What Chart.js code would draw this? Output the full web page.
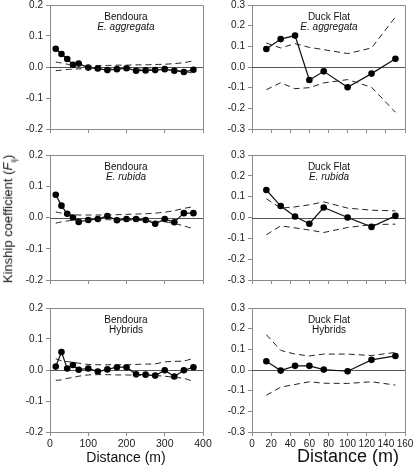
<!DOCTYPE html>
<html lang="en">
<head>
<meta charset="UTF-8">
<title>Kinship coefficient vs distance</title>
<script src="https://cdn.jsdelivr.net/npm/chart.js"></script>
<style>
  body { margin: 0; background: #fff; font-family: "Liberation Sans", Arial, sans-serif; }
  #wrap { position: relative; width: 416px; height: 470px; overflow: hidden; }
  canvas { position: absolute; }
  .ttl { position: absolute; width: 150px; font-size: 10px; line-height: 10px; text-align: center; color: #111; }
  .ylab { position: absolute; width: 200px; font-size: 13px; text-align: center; color: #111; transform: rotate(-90deg); }
  .xlab { position: absolute; text-align: center; color: #111; white-space: nowrap; }
</style>
</head>
<body>
<div id="wrap">
  <canvas id="c1"></canvas><canvas id="c2"></canvas>
  <canvas id="c3"></canvas><canvas id="c4"></canvas>
  <canvas id="c5"></canvas><canvas id="c6"></canvas>

  <div class="ttl" style="left:51px;top:12px">Bendoura<br><i>E. aggregata</i></div>
  <div class="ttl" style="left:254px;top:12px">Duck Flat<br><i>E. aggregata</i></div>
  <div class="ttl" style="left:51px;top:162px">Bendoura<br><i>E. rubida</i></div>
  <div class="ttl" style="left:254px;top:162px">Duck Flat<br><i>E. rubida</i></div>
  <div class="ttl" style="left:51px;top:315px">Bendoura<br>Hybrids</div>
  <div class="ttl" style="left:254px;top:315px">Duck Flat<br>Hybrids</div>

  <div class="ylab" style="left:-91px;top:210px">Kinship coefficient (<i>F</i><sub style="font-size:8px">ij</sub>)</div>
  <div class="xlab" style="left:66px;width:120px;top:449px;font-size:14px">Distance (m)</div>
  <div class="xlab" style="left:288px;width:120px;top:446px;font-size:18px">Distance (m)</div>
</div>

<script>
// Bendoura distance classes (m)
const distB = [15, 30, 45, 60, 75, 100, 125, 150, 175, 200, 225, 250, 275, 300, 325, 350, 375];
// Duck Flat distance classes (m)
const distD = [15, 30, 45, 60, 75, 100, 125, 150];

// Bendoura E. aggregata
const bAggObs = [0.059, 0.042, 0.026, 0.007, 0.011, -0.002, -0.005, -0.010, -0.007, -0.004, -0.012, -0.011, -0.010, -0.007, -0.012, -0.016, -0.009];
const bAggUp  = [0.016, 0.013, 0.009, 0.007, 0.006, 0.005, 0.005, 0.005, 0.006, 0.006, 0.007, 0.007, 0.008, 0.009, 0.011, 0.014, 0.020];
const bAggLo  = [-0.012, -0.010, -0.008, -0.007, -0.006, -0.006, -0.006, -0.006, -0.006, -0.006, -0.007, -0.007, -0.008, -0.009, -0.011, -0.014, -0.020];

// Duck Flat E. aggregata
const dAggObs = [0.087, 0.135, 0.152, -0.063, -0.021, -0.098, -0.032, 0.040];
const dAggUp  = [0.116, 0.092, 0.113, 0.095, 0.084, 0.065, 0.092, 0.242];
const dAggLo  = [-0.110, -0.076, -0.105, -0.100, -0.077, -0.061, -0.098, -0.219];

// Bendoura E. rubida
const bRubObs = [0.073, 0.038, 0.012, 0.000, -0.014, -0.008, -0.005, 0.005, -0.009, -0.005, -0.005, -0.008, -0.020, -0.005, -0.015, 0.014, 0.014];
const bRubUp  = [0.018, 0.014, 0.011, 0.009, 0.008, 0.008, 0.008, 0.008, 0.009, 0.010, 0.011, 0.012, 0.014, 0.017, 0.022, 0.029, 0.035];
const bRubLo  = [-0.018, -0.014, -0.011, -0.009, -0.008, -0.008, -0.008, -0.007, -0.008, -0.008, -0.009, -0.010, -0.012, -0.014, -0.019, -0.027, -0.036];

// Duck Flat E. rubida
const dRubObs = [0.132, 0.055, 0.005, -0.030, 0.048, 0.000, -0.045, 0.008];
const dRubUp  = [0.090, 0.045, 0.051, 0.061, 0.075, 0.045, 0.035, 0.032];
const dRubLo  = [-0.083, -0.040, -0.050, -0.060, -0.072, -0.048, -0.034, -0.032];

// Bendoura hybrids
const bHybObs = [0.011, 0.058, 0.005, 0.016, 0.001, 0.005, -0.005, 0.002, 0.009, 0.009, -0.014, -0.015, -0.018, -0.001, -0.021, -0.001, 0.009];
const bHybUp  = [0.036, 0.030, 0.027, 0.025, 0.022, 0.018, 0.017, 0.017, 0.017, 0.017, 0.018, 0.019, 0.020, 0.026, 0.028, 0.029, 0.038];
const bHybLo  = [-0.033, -0.032, -0.027, -0.024, -0.020, -0.016, -0.015, -0.015, -0.016, -0.016, -0.017, -0.017, -0.018, -0.020, -0.024, -0.027, -0.037];

// Duck Flat hybrids
const dHybObs = [0.042, -0.003, 0.020, 0.020, 0.002, -0.006, 0.049, 0.068];
const dHybUp  = [0.171, 0.095, 0.077, 0.068, 0.077, 0.077, 0.070, 0.085];
const dHybLo  = [-0.122, -0.083, -0.070, -0.057, -0.064, -0.065, -0.057, -0.073];

const AXIS = '#8a8a8a';
const TEXT = '#1a1a1a';

// frame on top/right + solid zero line
const framePlugin = {
  id: 'frame',
  beforeDatasetsDraw(chart) {
    const a = chart.chartArea, ctx = chart.ctx;
    const y0 = Math.round(chart.scales.y.getPixelForValue(0)) + 0.5;
    ctx.save();
    ctx.strokeStyle = '#555';
    ctx.lineWidth = 1;
    ctx.beginPath();
    ctx.moveTo(a.left, y0);
    ctx.lineTo(a.right, y0);
    ctx.stroke();
    ctx.restore();
  },
  afterDraw(chart) {
    const a = chart.chartArea, ctx = chart.ctx;
    ctx.save();
    ctx.strokeStyle = AXIS;
    ctx.lineWidth = 1;
    ctx.beginPath();
    ctx.moveTo(a.left, Math.round(a.top) + 0.5);
    ctx.lineTo(Math.round(a.right) + 0.5, Math.round(a.top) + 0.5);
    ctx.lineTo(Math.round(a.right) + 0.5, a.bottom);
    ctx.stroke();
    ctx.restore();
  }
};

function pts(xs, ys) {
  return xs.map((x, i) => ({ x: x, y: ys[i] }));
}

function panel(id, xs, obs, up, lo, cfg) {
  const cv = document.getElementById(id);
  cv.width = cfg.w;
  cv.height = cfg.h;
  cv.style.left = cfg.left + 'px';
  cv.style.top = cfg.top + 'px';
  const tension = cfg.smooth ? 0.3 : 0;
  const env = {
    borderColor: '#222', borderWidth: 1, borderDash: [6, 4],
    pointRadius: 0, tension: tension, fill: false
  };
  new Chart(cv, {
    type: 'line',
    data: {
      datasets: [
        Object.assign({ data: pts(xs, up) }, env),
        Object.assign({ data: pts(xs, lo) }, env),
        {
          data: pts(xs, obs),
          borderColor: '#111', borderWidth: 1.2,
          pointRadius: 3.3, pointBackgroundColor: '#000', pointBorderWidth: 0,
          tension: 0
        }
      ]
    },
    options: {
      responsive: false,
      animation: false,
      events: [],
      layout: { padding: { top: cfg.padTop, right: cfg.padRight, left: 0, bottom: 0 } },
      plugins: { legend: { display: false }, tooltip: { enabled: false } },
      scales: {
        x: {
          type: 'linear', min: 0, max: cfg.xmax,
          ticks: {
            stepSize: cfg.xstep, autoSkip: false, maxRotation: 0, padding: 2,
            color: cfg.showX ? TEXT : 'rgba(0,0,0,0)',
            font: { family: 'Liberation Sans', size: cfg.xFont }
          },
          grid: { drawOnChartArea: false, tickLength: 4, color: AXIS },
          border: { color: AXIS },
          afterFit(s) { s.height = cfg.xh; s.paddingLeft = 0; s.paddingRight = 0; }
        },
        y: {
          min: -cfg.ymax, max: cfg.ymax,
          ticks: {
            stepSize: 0.1, padding: 3, color: TEXT,
            font: { family: 'Liberation Sans', size: 10 },
            callback: v => (Math.round(v * 10) / 10).toFixed(1)
          },
          grid: { drawOnChartArea: false, tickLength: 4, color: AXIS },
          border: { color: AXIS },
          afterFit(s) { s.width = cfg.yw; s.paddingTop = 0; s.paddingBottom = 0; }
        }
      }
    },
    plugins: [framePlugin]
  });
}

const leftCol  = { left: 0,   w: 215, yw: 50, padRight: 12, xmax: 400, xstep: 100, ymax: 0.2, smooth: true,  xFont: 10.5 };
const rightCol = { left: 210, w: 206, yw: 42, padRight: 11, xmax: 160, xstep: 20,  ymax: 0.3, smooth: false, xFont: 10 };
const row1 = { top: 0,   h: 140, padTop: 5,  xh: 11, showX: false };
const row2 = { top: 145, h: 145, padTop: 10, xh: 10, showX: false };
const row3 = { top: 295, h: 175, padTop: 13, xh: 38, showX: true };

panel('c1', distB, bAggObs, bAggUp, bAggLo, Object.assign({}, leftCol, row1));
panel('c2', distD, dAggObs, dAggUp, dAggLo, Object.assign({}, rightCol, row1));
panel('c3', distB, bRubObs, bRubUp, bRubLo, Object.assign({}, leftCol, row2));
panel('c4', distD, dRubObs, dRubUp, dRubLo, Object.assign({}, rightCol, row2));
panel('c5', distB, bHybObs, bHybUp, bHybLo, Object.assign({}, leftCol, row3));
panel('c6', distD, dHybObs, dHybUp, dHybLo, Object.assign({}, rightCol, row3));
</script>
</body>
</html>
